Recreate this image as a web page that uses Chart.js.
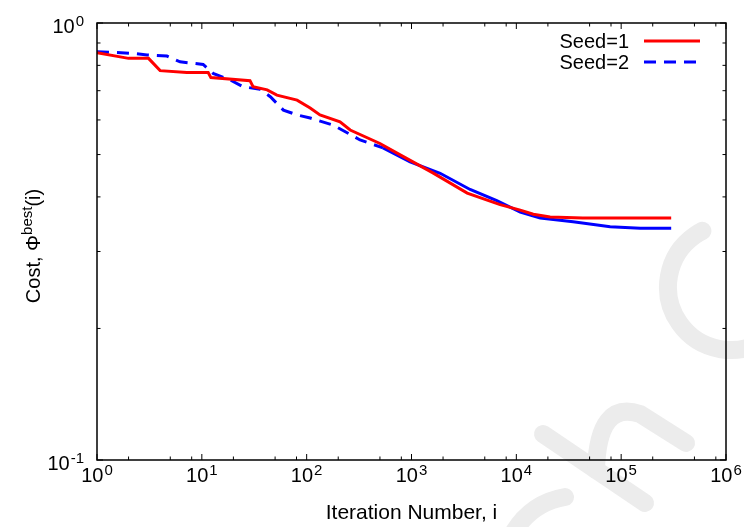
<!DOCTYPE html>
<html lang="en">

<head>
    <meta charset="UTF-8">
    <title>Cost vs iteration</title>
    <script src="https://cdn.jsdelivr.net/npm/chart.js"></script>
    <style>
        html,
        body {
            margin: 0;
            padding: 0;
            background: #ffffff;
        }

        #chart {
            display: block;
        }
    </style>
</head>

<body>
    <canvas id="chart" width="744" height="527"></canvas>

    <script>
        // Seed=1 (red, solid)
        const seed1Iter = [1, 2, 3.1, 4, 7.2, 11.5, 12.2, 28.8, 30.8, 42, 52, 81, 108, 134, 208, 260, 500, 780, 1600, 3400, 7000, 10900, 14500, 21000, 43000, 300000];
        const seed1Cost = [0.855, 0.83, 0.83, 0.778, 0.77, 0.77, 0.75, 0.738, 0.715, 0.703, 0.684, 0.666, 0.639, 0.616, 0.594, 0.569, 0.53, 0.499, 0.454, 0.408, 0.384, 0.373, 0.365, 0.36, 0.358, 0.358];

        // Seed=2 (blue, dashed)
        const seed2Iter = [1, 2.2, 3, 4.65, 6.2, 10.3, 12.8, 18.6, 24.7, 36, 45, 60, 81, 108, 179, 323, 535, 970, 1875, 3620, 6510, 10900, 16900, 34800, 78500, 152000, 300000];
        const seed2Cost = [0.86, 0.852, 0.845, 0.84, 0.815, 0.804, 0.767, 0.741, 0.715, 0.705, 0.678, 0.632, 0.616, 0.606, 0.584, 0.54, 0.518, 0.481, 0.453, 0.416, 0.392, 0.369, 0.358, 0.351, 0.342, 0.339, 0.339];

        const seriesLabels = ['Seed=1', 'Seed=2'];
        const xDecades = [0, 1, 2, 3, 4, 5, 6];   // 10^0 .. 10^6
        const yDecades = [-1, 0];                // 10^-1 .. 10^0
        const xMinor = [2, 5, 8];
        const yMinor = [2, 3, 4, 5, 6, 7, 8, 9];

        const FONT = '"Liberation Sans", Arial, Helvetica, sans-serif';

        function toPoints(xs, ys) {
            return xs.map((x, i) => ({ x: x, y: ys[i] }));
        }

        // 10 with an exponent, drawn as two pieces of text
        function drawPower(ctx, exp, x, y, align) {
            ctx.font = '20px ' + FONT;
            const wBase = ctx.measureText('10').width;
            ctx.font = '15px ' + FONT;
            const wExp = ctx.measureText(exp).width;
            const total = wBase + 1 + wExp;
            const start = align === 'center' ? x - total / 2 : x - total;
            ctx.textAlign = 'left';
            ctx.textBaseline = 'alphabetic';
            ctx.font = '20px ' + FONT;
            ctx.fillText('10', start, y);
            ctx.font = '15px ' + FONT;
            ctx.fillText(exp, start + wBase + 1, y - 7);
        }

        // faint grey marks in the background of the picture
        const watermark = {
            id: 'watermark',
            beforeDraw(chart) {
                const ctx = chart.ctx;
                ctx.save();
                ctx.fillStyle = '#ffffff';
                ctx.fillRect(0, 0, chart.width, chart.height);
                ctx.strokeStyle = '#ececec';
                ctx.lineWidth = 18;
                ctx.lineCap = 'round';
                ctx.beginPath();
                ctx.arc(731, 287, 63, 55 * Math.PI / 180, 243 * Math.PI / 180);
                ctx.stroke();
                ctx.beginPath();
                ctx.moveTo(543, 434);
                ctx.lineTo(645, 503);
                ctx.stroke();
                ctx.beginPath();
                ctx.moveTo(596, 470);
                ctx.quadraticCurveTo(598, 400, 640, 414);
                ctx.lineTo(686, 443);
                ctx.stroke();
                ctx.beginPath();
                ctx.moveTo(512, 535);
                ctx.quadraticCurveTo(530, 503, 565, 497);
                ctx.stroke();
                ctx.restore();
            }
        };

        // frame, inward ticks, labels, titles and key
        const frame = {
            id: 'frame',
            afterDraw(chart) {
                const ctx = chart.ctx;
                const a = chart.chartArea;
                const xs = chart.scales.x;
                const ys = chart.scales.y;
                ctx.save();
                ctx.strokeStyle = '#000000';
                ctx.fillStyle = '#000000';
                ctx.lineWidth = 1.5;
                ctx.strokeRect(a.left, a.top, a.right - a.left, a.bottom - a.top);

                ctx.lineWidth = 1;
                ctx.beginPath();
                xDecades.forEach((d, i) => {
                    const major = xs.getPixelForValue(Math.pow(10, d));
                    ctx.moveTo(major, a.bottom); ctx.lineTo(major, a.bottom - 6);
                    ctx.moveTo(major, a.top); ctx.lineTo(major, a.top + 6);
                    if (i < xDecades.length - 1) {
                        xMinor.forEach(m => {
                            const px = xs.getPixelForValue(m * Math.pow(10, d));
                            ctx.moveTo(px, a.bottom); ctx.lineTo(px, a.bottom - 3.5);
                            ctx.moveTo(px, a.top); ctx.lineTo(px, a.top + 3.5);
                        });
                    }
                });
                yDecades.forEach((d, i) => {
                    const major = ys.getPixelForValue(Math.pow(10, d));
                    ctx.moveTo(a.left, major); ctx.lineTo(a.left + 6, major);
                    ctx.moveTo(a.right, major); ctx.lineTo(a.right - 6, major);
                    if (i < yDecades.length - 1) {
                        yMinor.forEach(m => {
                            const py = ys.getPixelForValue(m * Math.pow(10, d));
                            ctx.moveTo(a.left, py); ctx.lineTo(a.left + 3.5, py);
                            ctx.moveTo(a.right, py); ctx.lineTo(a.right - 3.5, py);
                        });
                    }
                });
                ctx.stroke();

                // tick labels
                xDecades.forEach(d => {
                    drawPower(ctx, String(d), xs.getPixelForValue(Math.pow(10, d)), a.bottom + 22, 'center');
                });
                yDecades.forEach(d => {
                    drawPower(ctx, String(d), a.left - 13, ys.getPixelForValue(Math.pow(10, d)) + 9.5, 'right');
                });

                // x title
                ctx.font = '21px ' + FONT;
                ctx.textAlign = 'center';
                ctx.fillText('Iteration Number, i', (a.left + a.right) / 2, 519);

                // y title: Cost, Φ^best(i)
                ctx.save();
                ctx.translate(40, 246);
                ctx.rotate(-Math.PI / 2);
                ctx.textAlign = 'left';
                ctx.font = '20px ' + FONT;
                const w1 = ctx.measureText('Cost, Φ').width;
                const w3 = ctx.measureText('(i)').width;
                ctx.font = '15px ' + FONT;
                const w2 = ctx.measureText('best').width;
                let tx = -(w1 + w2 + w3) / 2;
                ctx.font = '20px ' + FONT;
                ctx.fillText('Cost, Φ', tx, 0);
                tx += w1;
                ctx.font = '15px ' + FONT;
                ctx.fillText('best', tx, -8);
                tx += w2;
                ctx.font = '20px ' + FONT;
                ctx.fillText('(i)', tx, 0);
                ctx.restore();

                // key, top right
                chart.data.datasets.forEach((ds, i) => {
                    const ly = 41 + i * 21;
                    ctx.font = '20px ' + FONT;
                    ctx.textAlign = 'right';
                    ctx.fillStyle = '#000000';
                    ctx.fillText(ds.label, 629, ly + 7);
                    ctx.strokeStyle = ds.borderColor;
                    ctx.lineWidth = 3;
                    ctx.setLineDash(ds.borderDash || []);
                    ctx.beginPath();
                    ctx.moveTo(644, ly);
                    ctx.lineTo(700, ly);
                    ctx.stroke();
                    ctx.setLineDash([]);
                });
                ctx.restore();
            }
        };

        new Chart(document.getElementById('chart'), {
            type: 'line',
            data: {
                datasets: [
                    {
                        label: seriesLabels[0],
                        data: toPoints(seed1Iter, seed1Cost),
                        borderColor: '#ff0000',
                        borderWidth: 3,
                        pointRadius: 0,
                        tension: 0,
                        fill: false
                    },
                    {
                        label: seriesLabels[1],
                        data: toPoints(seed2Iter, seed2Cost),
                        borderColor: '#0000ff',
                        borderWidth: 3,
                        borderDash: [12, 8],
                        pointRadius: 0,
                        tension: 0,
                        fill: false,
                        // dense part of the run looks solid in the original
                        segment: {
                            borderDash: c => c.p0.parsed.x >= 500 ? [] : [12, 8]
                        }
                    }
                ]
            },
            options: {
                responsive: false,
                animation: false,
                devicePixelRatio: 1,
                layout: {
                    padding: { left: 97, top: 23, right: 18, bottom: 67 }
                },
                plugins: {
                    legend: { display: false },
                    tooltip: { enabled: false }
                },
                scales: {
                    x: { type: 'logarithmic', min: 1, max: 1e6, display: false },
                    y: { type: 'logarithmic', min: 0.1, max: 1, display: false }
                }
            },
            plugins: [watermark, frame]
        });
    </script>
</body>

</html>
